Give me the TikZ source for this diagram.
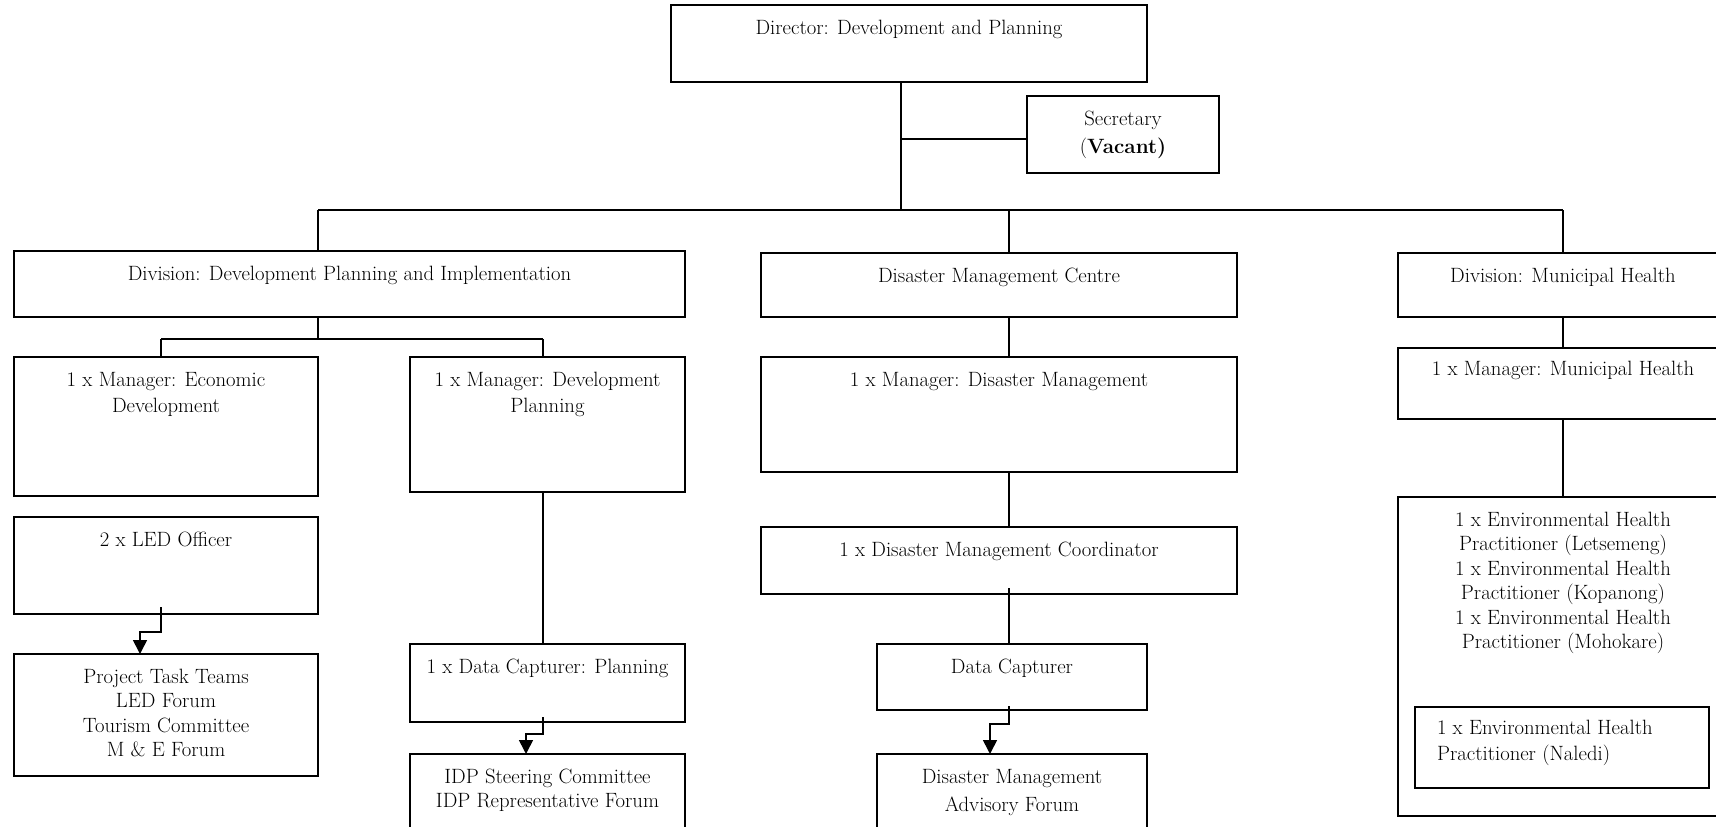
\documentclass[tikz,border=0pt]{standalone}
\usepackage{fontspec}
\usetikzlibrary{arrows.meta}
\tikzset{
 box/.style={draw, line width=1.6pt, inner sep=0pt, outer sep=0pt, font=\fontsize{20.7}{24.5}\selectfont},
 conn/.style={draw, line width=1.6pt},
 arr/.style={conn, -{Triangle[width=14pt,length=14pt]}}
}
\newcommand\orgbox[7][12]{%
 \pgfmathsetmacro\bw{#5-#3}\pgfmathsetmacro\bh{#6-#4}%
 \pgfmathsetmacro\cx{(#3+#5)/2}\pgfmathsetmacro\cy{(#4+#6)/2}%
 \node[box, minimum width=\bw pt, minimum height=\bh pt] (#2) at (\cx,\cy)
 {\parbox[c][\bh pt][t]{\bw pt}{\centering\vspace*{#1pt}\strut #7}};}
\begin{document}
\begin{tikzpicture}[x=1pt,y=-1pt]
\useasboundingbox (0,0) rectangle (1716,827);
\orgbox{dir}{671}{5}{1147}{82}{Director: Development and Planning}
\orgbox{sec}{1027}{96}{1219}{173}{Secretary\\[4pt](\textbf{Vacant)}}
\orgbox{dpi}{14}{251}{685}{317}{Division: Development Planning and Implementation}
\orgbox{dmc}{761}{253}{1237}{317}{Disaster Management Centre}
\orgbox{mh}{1398}{253}{1728}{317}{Division: Municipal Health}
\orgbox{med}{14}{357}{318}{496}{1 x Manager: Economic\\[2pt]Development}
\orgbox{mdp}{410}{357}{685}{492}{1 x Manager: Development\\[2pt]Planning}
\orgbox{led}{14}{517}{318}{614}{2 x LED Officer}
\orgbox{ptt}{14}{654}{318}{776}{Project Task Teams\\LED Forum\\Tourism Committee\\M \& E Forum}
\orgbox{dcp}{410}{644}{685}{722}{1 x Data Capturer: Planning}
\orgbox{idp}{410}{754}{685}{835}{IDP Steering Committee\\IDP Representative Forum}
\orgbox{mdm}{761}{357}{1237}{472}{1 x Manager: Disaster Management}
\orgbox{dmco}{761}{527}{1237}{594}{1 x Disaster Management Coordinator}
\orgbox{dc}{877}{644}{1147}{710}{Data Capturer}
\orgbox{dmaf}{877}{754}{1147}{835}{Disaster Management\\[4pt]Advisory Forum}
\orgbox[10]{mmh}{1398}{348}{1728}{419}{1 x Manager: Municipal Health}
\orgbox{ehp}{1398}{497}{1728}{816}{1 x Environmental Health\\Practitioner (Letsemeng)\\1 x Environmental Health\\Practitioner (Kopanong)\\1 x Environmental Health\\Practitioner (Mohokare)}
\node[box, minimum width=294pt, minimum height=81pt] (nal) at (1562,747.5)
 {\parbox[c][81pt][t]{294pt}{\raggedright\leftskip=22pt\vspace*{10pt}\strut 1 x Environmental Health\\[2pt]Practitioner (Naledi)}};
% connectors
\coordinate (jA) at (901,210);
\coordinate (jS) at (901,139);
\coordinate (bL) at (318,210);
\coordinate (bM) at (1009,210);
\coordinate (bR) at (1563,210);
\draw[conn] (dir.south -| jA) -- (jA);
\draw[conn] (jS) -- (jS -| sec.west);
\draw[conn] (bL) -- (bR);
\draw[conn] (bL) -- (bL |- dpi.north);
\draw[conn] (bM) -- (bM |- dmc.north);
\draw[conn] (bR) -- (bR |- mh.north);
\coordinate (b2) at (318,339);
\coordinate (b2L) at (161,339);
\coordinate (b2R) at (543,339);
\draw[conn] (b2 |- dpi.south) -- (b2);
\draw[conn] (b2L) -- (b2R);
\draw[conn] (b2L) -- (b2L |- med.north);
\draw[conn] (b2R) -- (b2R |- mdp.north);
\draw[conn] (mdp.south -| b2R) -- (dcp.north -| b2R);
\coordinate (l1) at (161,607);
\coordinate (l2) at (161,632);
\coordinate (l3) at (140,632);
\draw[arr] (l1) -- (l2) -- (l3) -- (l3 |- ptt.north);
\coordinate (p1) at (543,717);
\coordinate (p2) at (543,734);
\coordinate (p3) at (526,734);
\draw[arr] (p1) -- (p2) -- (p3) -- (p3 |- idp.north);
\draw[conn] (bM |- dmc.south) -- (bM |- mdm.north);
\draw[conn] (bM |- mdm.south) -- (bM |- dmco.north);
\coordinate (d0) at (1009,588);
\draw[conn] (d0) -- (bM |- dc.north);
\coordinate (d1) at (1009,706);
\coordinate (d2) at (1009,724);
\coordinate (d3) at (990,724);
\draw[arr] (d1) -- (d2) -- (d3) -- (d3 |- dmaf.north);
\draw[conn] (bR |- mh.south) -- (bR |- mmh.north);
\draw[conn] (bR |- mmh.south) -- (bR |- ehp.north);
\end{tikzpicture}
\end{document}
